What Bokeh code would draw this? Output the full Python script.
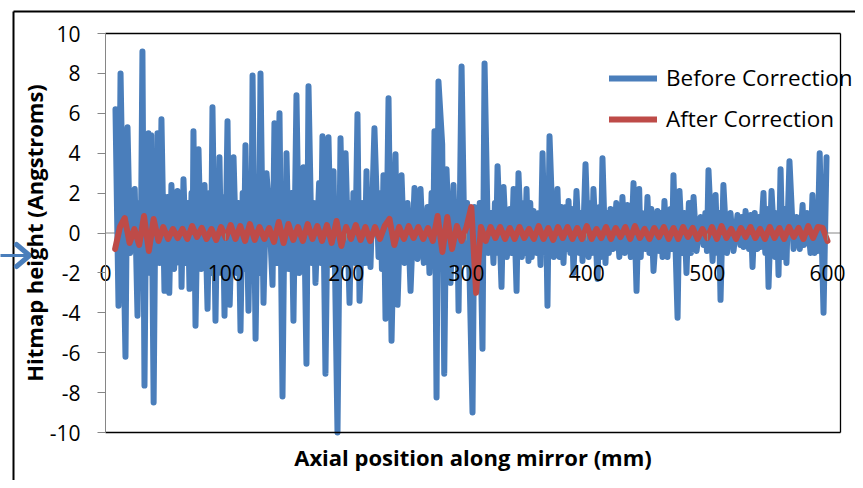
from bokeh.plotting import figure
from bokeh.models import Range1d, LinearAxis, FixedTicker, Legend, LegendItem
from bokeh.embed import file_html
from bokeh.resources import INLINE

# ---------------- data ----------------
y_ticks = [-10, -8, -6, -4, -2, 0, 2, 4, 6, 8, 10]
x_ticks = [0, 100, 200, 300, 400, 500, 600]
y_min, y_max = -10, 10
x_min, x_axis_max = 0, 610.8   # x axis extent (plot-area right edge)

series_names = ["Before Correction", "After Correction"]

# Before Correction: (axial position mm, height Angstroms)
before_points = [
    (8.3, 6.2), (10.8, -3.65), (12.5, 8.0), (16.6, -6.2), (18.3, 5.3), (20.5, -1.0), (22.4, 1.0),
    (24.3, 2.2), (26.6, -4.15), (28.0, 1.5), (29.2, -2.0), (30.7, 9.1), (32.4, -7.65), (33.8, 2.0),
    (34.8, -1.5), (35.7, 5.0), (37.0, -2.0), (38.0, 4.9), (40.0, -8.5), (41.5, 1.8), (42.3, -1.5),
    (43.2, 5.0), (45.0, -1.5), (46.5, 5.7), (49.0, -2.9), (51.5, 1.8), (53.0, -3.0), (54.8, 2.4),
    (57.0, -1.8), (59.8, 2.1), (61.5, -1.5), (62.3, 1.8), (63.2, -2.7), (64.8, 2.7), (67.0, -1.5),
    (68.5, 1.5), (69.8, -2.8), (71.5, 2.0), (72.3, -1.5), (73.1, 5.1), (74.8, -4.65), (77.3, 4.2),
    (79.5, -1.8), (82.3, 2.4), (84.8, -3.8), (86.5, 2.0), (87.6, -2.0), (88.9, 6.3), (91.4, -4.4),
    (93.0, 2.0), (93.8, -1.5), (94.7, 3.8), (96.3, -2.0), (97.5, 1.8), (98.9, -4.15), (101.4, 5.6),
    (103.2, -3.6), (106.4, 3.8), (109.0, -2.0), (110.5, 1.5), (112.2, -4.9), (114.0, 2.0), (115.0, -1.8),
    (116.3, 4.4), (118.8, -3.9), (120.3, 1.5), (121.2, -1.5), (122.2, 7.9), (124.7, -5.3), (126.5, 2.0),
    (127.5, -2.0), (128.8, 8.0), (131.3, -3.5), (133.8, 3.0), (136.0, 1.2), (138.8, -2.6), (140.4, 5.5),
    (142.5, -1.5), (144.6, 6.0), (147.1, -8.2), (148.8, 1.5), (149.6, -1.5), (150.4, 4.0), (152.5, -1.8),
    (154.5, 2.0), (156.2, -4.4), (158.7, 6.9), (161.0, -2.0), (162.7, 1.8), (163.6, -1.5), (164.5, 3.3),
    (167.0, -6.55), (168.7, 7.35), (171.5, -1.5), (173.0, 1.5), (174.5, -2.5), (177.5, 2.5), (179.0, -1.5),
    (180.3, 4.85), (182.8, -7.05), (185.3, 4.8), (187.5, -1.5), (189.5, 3.1), (192.8, -10.0), (195.3, 4.75),
    (197.5, -1.5), (199.5, 4.0), (202.8, -3.5), (204.5, 1.5), (205.2, -1.2), (206.0, 2.0), (207.5, -1.5),
    (209.4, 5.95), (211.1, -3.4), (214.0, 1.5), (215.5, -1.5), (216.9, 3.1), (218.0, -1.5), (219.0, 1.5),
    (220.2, -1.7), (223.5, 5.25), (226.9, -1.2), (228.5, 2.0), (229.7, -1.8), (231.0, 2.9), (232.7, -4.3),
    (235.2, 6.75), (237.7, -5.4), (241.0, 3.95), (242.7, -3.6), (246.0, 2.9), (248.5, -1.5), (251.0, 1.5),
    (253.5, -2.9), (256.8, 2.25), (259.3, -1.3), (261.8, 2.2), (264.5, -1.5), (267.6, 1.3), (269.2, -2.0),
    (271.0, 2.0), (272.2, -1.5), (273.4, 5.1), (275.1, -8.25), (276.7, 7.6), (279.8, 4.45), (281.5, -7.05),
    (283.4, 3.2), (286.7, -2.5), (289.2, 2.4), (291.0, -1.5), (292.2, 1.5), (293.4, -3.9), (295.9, 8.35),
    (298.5, -1.5), (300.5, 1.5), (302.5, -2.0), (305.0, -9.0), (306.5, 1.3), (309.0, -1.5), (311.0, 1.5),
    (313.3, -5.8), (315.0, 8.5), (318.0, -1.0), (320.5, 1.0), (322.4, -1.5), (323.6, 1.5), (324.6, -1.0),
    (325.8, 3.35), (327.2, 1.0), (328.0, -0.8), (329.1, -2.7), (330.8, 2.3), (333.5, -1.2), (336.0, 1.2),
    (337.5, -1.0), (339.1, 2.2), (341.6, -2.9), (343.2, 3.0), (346.0, -1.2), (347.5, 1.5), (348.5, -1.0),
    (349.9, 2.2), (351.5, -1.4), (353.0, 1.5), (354.2, -1.2), (355.7, 1.1), (358.5, -1.0), (360.0, 1.0),
    (361.5, -1.6), (363.2, 4.0), (365.0, -1.0), (366.0, 1.5), (367.3, -3.65), (369.0, 4.85), (372.5, -1.2),
    (373.8, 1.5), (374.6, -0.8), (375.6, 2.2), (377.3, -1.2), (378.8, 1.3), (380.6, -1.5), (382.5, 1.3),
    (383.7, -0.8), (384.8, 1.6), (386.3, -1.0), (387.5, 1.2), (388.9, -2.0), (391.4, 2.1), (393.8, -1.0),
    (395.2, 1.0), (396.4, -1.4), (398.9, 3.45), (401.5, -1.2), (403.0, 1.5), (404.2, -1.0), (405.5, 2.2),
    (408.9, -2.3), (410.5, 1.3), (411.6, -1.2), (413.0, 3.75), (415.5, -1.5), (417.0, 1.0), (418.3, -1.0),
    (419.7, 1.2), (422.0, -0.8), (424.5, 1.5), (427.0, -1.2), (429.6, 1.8), (431.5, -1.0), (433.8, 1.4),
    (436.5, -1.2), (438.8, 2.5), (441.3, -2.9), (443.5, 2.2), (444.8, -1.2), (446.0, 1.0), (448.8, -0.8),
    (450.4, 1.8), (452.0, -1.0), (453.6, 1.2), (455.4, -1.9), (458.7, 1.1), (460.2, -0.9), (461.5, 1.0),
    (462.9, -1.2), (464.5, 1.6), (467.0, -1.2), (469.5, 1.2), (470.8, -0.8), (472.0, 2.9), (475.4, -4.25),
    (477.0, 2.1), (479.5, -1.0), (481.0, 1.0), (482.8, -2.0), (484.8, 1.5), (486.5, -1.0), (488.7, 1.8),
    (491.2, -0.9), (494.5, 0.8), (497.0, -0.6), (498.5, 1.0), (499.8, -0.9), (501.1, 3.15), (504.5, -1.4),
    (507.0, 1.9), (508.5, -1.0), (509.8, 1.0), (511.1, -3.35), (513.5, 2.4), (516.5, -1.0), (519.4, 1.0),
    (521.9, -0.9), (525.2, 0.9), (527.6, -0.6), (529.0, 0.8), (530.2, -0.7), (531.9, 1.1), (534.8, -0.8),
    (536.2, 0.9), (537.7, -1.7), (539.5, 1.0), (541.8, -0.8), (543.0, 0.8), (544.3, -0.7), (546.8, 2.0),
    (548.3, -1.0), (549.6, 1.2), (551.0, -2.7), (553.5, 2.1), (556.5, -1.2), (558.0, 1.0), (559.3, -2.1),
    (561.0, 3.2), (562.6, -1.2), (564.2, 1.2), (565.9, -1.5), (568.4, 3.6), (571.8, -0.8), (574.3, 0.8),
    (577.0, -0.8), (579.3, 1.4), (580.5, -0.6), (583.0, 1.0), (585.9, -1.0), (587.5, 1.9), (589.2, -1.0),
    (590.5, 1.2), (591.7, -0.9), (593.5, 4.0), (596.7, -4.0), (599.2, 3.8),
]
before_x = [pt[0] for pt in before_points]
before_y = [pt[1] for pt in before_points]

# After Correction: sampled every 4 mm starting at 8 mm
after_start = 8
after_step = 4
after_y = [
    -0.8, 0.3, 0.75, -0.5, 0.2, -0.6, 0.85, -0.9, 0.7, -0.4,
    0.3, -0.3, 0.2, -0.25, 0.2, -0.3, 0.35, -0.2, 0.25, -0.3,
    0.2, -0.35, 0.3, -0.25, 0.4, -0.3, 0.35, -0.4, 0.45, -0.35,
    0.3, -0.3, 0.25, -0.45, 0.55, -0.5, 0.45, -0.35, 0.3, -0.4,
    0.45, -0.3, 0.35, -0.4, 0.4, -0.5, 0.6, -0.65, 0.3, -0.3,
    0.4, -0.35, 0.3, -0.4, 0.3, -0.3, 0.35, 0.7, -0.6, 0.3,
    -0.3, 0.35, -0.25, 0.3, -0.3, 0.25, -0.4, 0.85, -0.95, 0.8,
    -0.8, 0.35, -0.4, 0.3, 1.3, -3.0, 0.3, -0.4, 0.3, -0.25,
    0.3, -0.3, 0.25, -0.3, 0.3, -0.25, 0.2, -0.3, 0.35, -0.3,
    0.25, -0.35, 0.3, -0.25, 0.3, -0.3, 0.25, -0.3, 0.35, -0.3,
    0.2, -0.25, 0.3, -0.3, 0.25, -0.2, 0.3, -0.3, 0.35, -0.25,
    0.2, -0.3, 0.25, -0.2, 0.3, -0.3, 0.25, -0.3, 0.3, -0.2,
    0.25, -0.3, 0.2, -0.25, 0.3, -0.3, 0.35, -0.25, 0.2, -0.3,
    0.25, -0.2, 0.3, -0.25, 0.2, -0.3, 0.3, -0.25, 0.25, -0.3,
    0.3, -0.2, 0.25, -0.3, 0.35, -0.25, 0.3, 0.25, -0.4,
]
after_x = [after_start + after_step * i for i in range(len(after_y))]

# ---------------- layout / styling ----------------
FONT = "Open Sans"
BLUE = "#4A7EBB"
RED = "#BE4B48"
AXIS_GRAY = "#868686"

W, H = 855, 480
# pixel positions of the plot area inside the canvas
PX_X0, PX_YTOP, PX_YBOT = 105, 33, 432
PX_X600 = 827
sx = (PX_X600 - PX_X0) / 600.0                     # px per mm
sy = (PX_YBOT - PX_YTOP) / float(y_max - y_min)   # px per Angstrom


def dx(px):  # canvas px -> data x
    return x_min + (px - PX_X0) / sx


def dy(py):  # canvas py -> data y
    return y_max - (py - PX_YTOP) / sy


# the frame covers the whole canvas; axes are placed with fixed_location
p = figure(width=W, height=H, output_backend="svg", toolbar_location=None,
           x_range=Range1d(dx(0), dx(W)), y_range=Range1d(dy(H), dy(0)),
           x_axis_type=None, y_axis_type=None,
           min_border_left=0, min_border_right=0, min_border_top=0, min_border_bottom=0)
p.background_fill_color = "white"
p.border_fill_color = "white"
p.outline_line_color = None

# y axis at x = 0
yax = LinearAxis(fixed_location=x_min, bounds=(y_min, y_max), ticker=FixedTicker(ticks=y_ticks),
                 major_label_overrides={t: str(t) for t in y_ticks},
                 axis_line_color=AXIS_GRAY, major_tick_line_color=AXIS_GRAY,
                 major_tick_out=8, major_tick_in=0, minor_tick_line_color=None,
                 major_label_text_font=FONT, major_label_text_font_size="21px",
                 major_label_text_color="black", major_label_standoff=17,
                 axis_label="Hitmap height (Angstroms)", axis_label_text_font=FONT,
                 axis_label_text_font_style="bold", axis_label_text_font_size="22px",
                 axis_label_text_color="black", axis_label_standoff=-2)
p.add_layout(yax, "left")

# x axis crossing at y = 0
xax = LinearAxis(fixed_location=0, bounds=(x_min, x_axis_max), ticker=FixedTicker(ticks=x_ticks),
                 axis_line_color=None, major_tick_line_color=AXIS_GRAY,
                 major_tick_out=7, major_tick_in=0, minor_tick_line_color=None,
                 major_label_text_font=FONT, major_label_text_font_size="21px",
                 major_label_text_color="black", major_label_standoff=25)
p.add_layout(xax, "below")

# x axis title under the plot area
tax = LinearAxis(fixed_location=y_min, bounds=(x_min, x_axis_max), ticker=FixedTicker(ticks=[]),
                 axis_line_color=None, major_tick_line_color=None, minor_tick_line_color=None,
                 major_tick_out=0, major_tick_in=0, major_label_standoff=0,
                 major_label_text_font_size="0px",
                 axis_label="Axial position along mirror (mm)",
                 axis_label_text_font=FONT, axis_label_text_font_style="bold",
                 axis_label_text_font_size="22px", axis_label_text_color="black",
                 axis_label_standoff=9)
p.add_layout(tax, "below")

# axis line at 0 (under the data)
p.segment(x0=[x_min], y0=[0], x1=[x_axis_max], y1=[0], line_color=AXIS_GRAY, line_width=1, level="underlay")

r1 = p.line(before_x, before_y, line_color=BLUE, line_width=6, line_join="round", line_cap="round")
r2 = p.line(after_x, after_y, line_color=RED, line_width=6, line_join="round", line_cap="round")

# plot-area border (top, bottom, right)
p.segment(x0=[x_min, x_min, x_axis_max], y0=[y_max, y_min, y_min],
          x1=[x_axis_max, x_axis_max, x_axis_max], y1=[y_max, y_min, y_max],
          line_color="black", line_width=1.3)

# outer chart-area border (left and top edges; the others are outside the picture)
p.segment(x0=[dx(13), dx(13)], y0=[dy(11), dy(11)], x1=[dx(13), dx(W + 10)], y1=[dy(H + 10), dy(11)],
          line_color="black", line_width=2)

# small blue arrow at the left edge (shaft + two wings)
p.segment(x0=[dx(-2)], y0=[dy(255)], x1=[dx(29)], y1=[dy(255)], line_color=BLUE, line_width=3)
p.segment(x0=[dx(16), dx(16)], y0=[dy(244), dy(266)], x1=[dx(29), dx(29)], y1=[dy(255), dy(255)],
          line_color=BLUE, line_width=5, line_cap="round")

legend = Legend(items=[LegendItem(label=series_names[0], renderers=[r1]),
                       LegendItem(label=series_names[1], renderers=[r2])],
                location=(609, 346), orientation="vertical",
                border_line_color=None, background_fill_alpha=0,
                padding=0, margin=0, spacing=10, glyph_width=48, glyph_height=20,
                label_standoff=9, label_text_font=FONT, label_text_font_size="22.5px",
                label_text_color="black")
p.add_layout(legend)

open("out.html", "w").write(file_html(p, INLINE))
